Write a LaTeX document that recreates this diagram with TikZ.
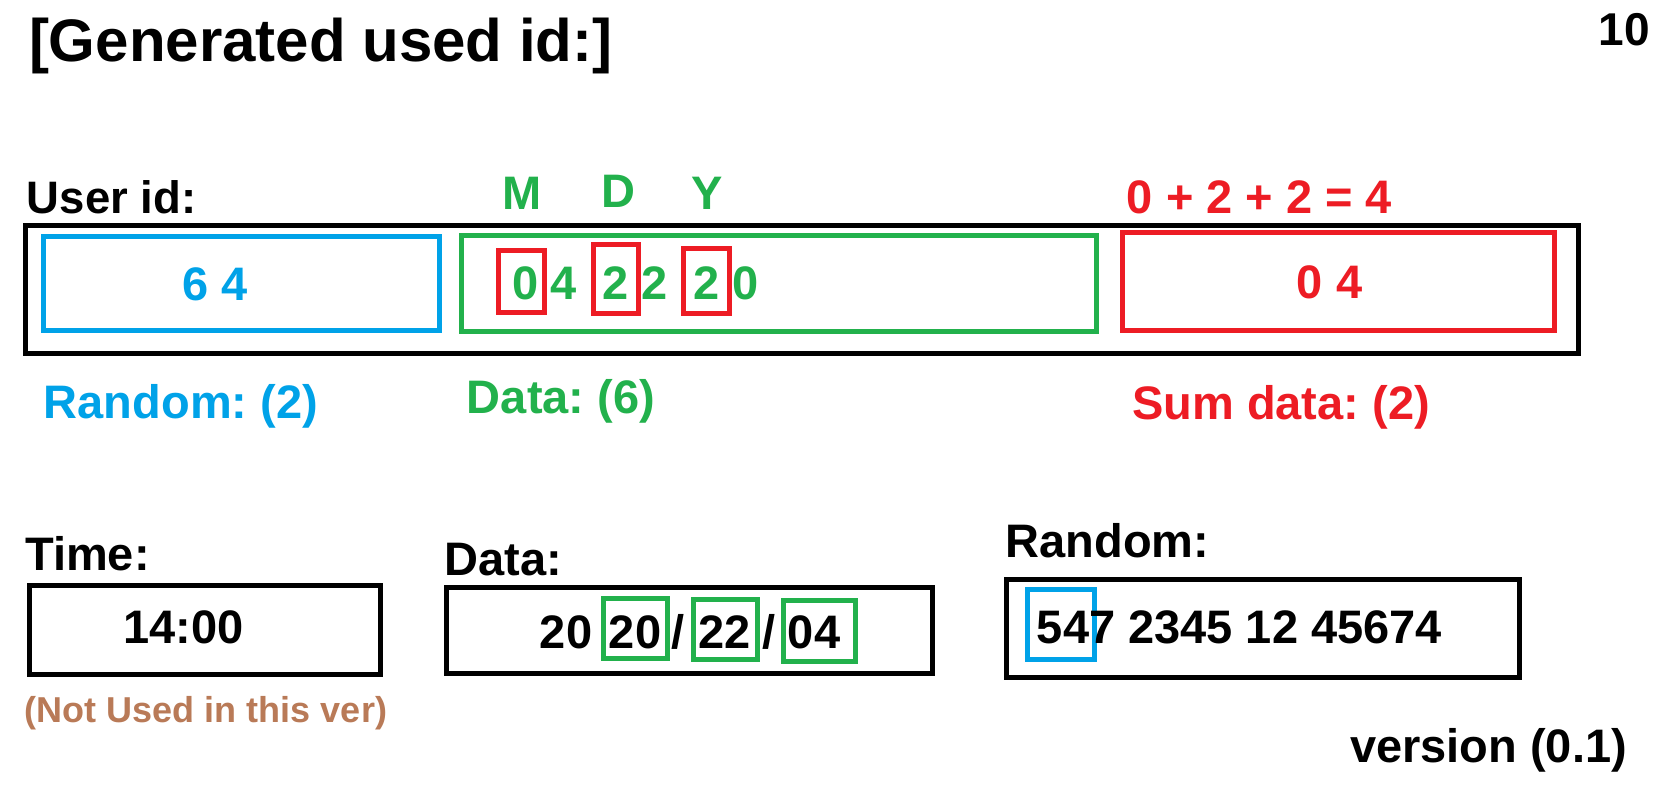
\documentclass[tikz,border=0pt]{standalone}
\usepackage{fontspec}
\setmainfont{Liberation Sans}
\frenchspacing
\definecolor{pblue}{HTML}{00A2E8}
\definecolor{pgreen}{HTML}{22B14C}
\definecolor{pred}{HTML}{ED1C24}
\definecolor{pbrown}{HTML}{B97A57}
\newcommand\fsz[1]{\fontsize{#1}{#1}\selectfont\frenchspacing}
\tikzset{
  box/.style={draw, line width=5pt, inner sep=0pt, outer sep=0pt},
  txt/.style={inner sep=0pt, outer sep=0pt, anchor=base, font=\bfseries\fsz{47}},
  big/.style={txt, font=\bfseries\fsz{47}},
}
\begin{document}
\begin{tikzpicture}[x=1pt, y=-1pt]
\useasboundingbox[fill=white] (0,0) rectangle (1654,790);

% title and page number
\node[txt, anchor=base west, font=\bfseries\fsz{60}] (title) at (29,61) {[Generated used id:]};
\node[txt, anchor=base east, font=\bfseries\fsz{46}] (pagenum) at (1650,45) {10};

% User id block
\node[txt, anchor=base west, font=\bfseries\fsz{45.5}] (uidlbl) at (27,213) {User id:};
\node[box, black, minimum width=1552.5pt, minimum height=128pt] (outer) at (801.75,289) {};
\node[box, pblue, minimum width=396pt, minimum height=94pt] (rndbox) at (241,283) {};
\node[box, pgreen, minimum width=635pt, minimum height=95.5pt] (databox) at (779,283.25) {};
\node[box, pred, minimum width=432pt, minimum height=98pt] (sumbox) at (1338,281) {};
\node[box, pred, minimum width=46pt, minimum height=62pt] (rm) at (521,281) {};
\node[box, pred, minimum width=45pt, minimum height=69pt] (rd) at (615.5,278.5) {};
\node[box, pred, minimum width=46pt, minimum height=65pt] (ry) at (706,280.5) {};

\node[big, pblue] (rndval) at (215.5,300) {6 4};
\node[big, pgreen] (d1) at (525.5,299) {0};
\node[big, pgreen] (d2) at (563.5,299) {4};
\node[big, pgreen] (d3) at (615.5,299) {2};
\node[big, pgreen] (d4) at (655,299) {2};
\node[big, pgreen] (d5) at (706.5,299) {2};
\node[big, pgreen] (d6) at (745.5,299) {0};
\node[big, pred] (sumval) at (1329.5,298) {0 4};

\node[big, pgreen] (lm) at (522.5,209) {M};
\node[big, pgreen] (ld) at (618,207) {D};
\node[big, pgreen] (ly) at (707.5,209) {Y};
\node[big, pred] (formula) at (1259.5,213) {0 + 2 + 2 = 4};

\node[txt, pblue] (rndlbl) at (181,418) {Random: (2)};
\node[txt, pgreen] (datalbl) at (561,413) {Data: (6)};
\node[txt, pred] (sumlbl) at (1281,419) {Sum data: (2)};

% Time
\node[txt] (timelbl) at (87.5,570) {Time:};
\node[box, black, minimum width=351pt, minimum height=89pt] (timebox) at (205,630) {};
\node[big] (timeval) at (183.5,643) {14:00};
\node[txt, pbrown, font=\bfseries\fsz{36}] (notused) at (206,722) {(Not Used in this ver)};

% Data
\node[txt] (datelbl) at (503.5,575) {Data:};
\node[box, black, minimum width=486pt, minimum height=86pt] (datebox) at (689,630) {};
\node[box, pgreen, minimum width=64pt, minimum height=60pt] (g1) at (635,628) {};
\node[box, pgreen, minimum width=64pt, minimum height=60pt] (g2) at (725,629) {};
\node[box, pgreen, minimum width=72pt, minimum height=61pt] (g3) at (819,630.5) {};
\node[big] (y1) at (566,648) {20};
\node[big] (y2) at (635,648) {20};
\node[big] (s1) at (678.5,648) {/};
\node[big] (dd) at (724.5,648) {22};
\node[big] (s2) at (769.5,648) {/};
\node[big] (mm) at (814,648) {04};

% Random
\node[txt] (randlbl) at (1107.5,557) {Random:};
\node[box, black, minimum width=513pt, minimum height=98pt] (randbox) at (1262.5,628) {};
\node[box, pblue, minimum width=67pt, minimum height=70pt] (bsmall) at (1060.5,624) {};
\node[big] (randval) at (1239.5,643) {547 2345 12 45674};

\node[txt] (version) at (1488.5,762) {version (0.1)};
\end{tikzpicture}
\end{document}
